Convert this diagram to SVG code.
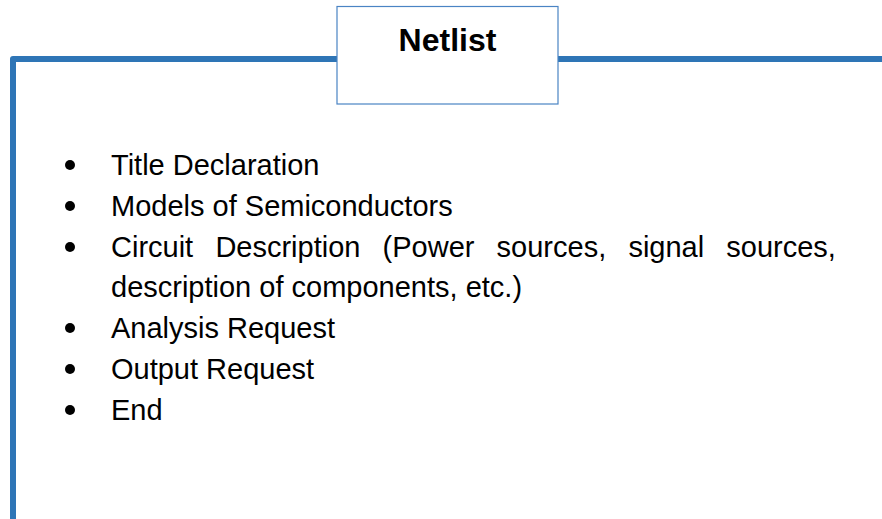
<svg xmlns="http://www.w3.org/2000/svg" width="882" height="519" viewBox="0 0 882 519">
  <style>
    .frame { fill: none; stroke: #2E75B6; stroke-width: 6; stroke-linejoin: round; }
    .title-box { fill: #FFFFFF; stroke: #4A84C4; stroke-width: 1.2; }
    .title { font-family: "Liberation Sans", Arial, sans-serif; font-weight: bold; font-size: 32px; fill: #000000; }
    .item { font-family: "Liberation Sans", Arial, sans-serif; font-size: 29px; fill: #000000; }
    .bullet { fill: #000000; }
  </style>
  <rect width="882" height="519" fill="#FFFFFF"/>

  <!-- outer frame rule: left edge and top edge -->
  <g id="connectors">
    <path class="frame" d="M13,522 V59 H885"/>
  </g>

  <!-- heading box -->
  <g id="netlist-title">
    <rect class="title-box" x="337" y="6.5" width="221" height="97.5"/>
    <text class="title" x="447.5" y="51" text-anchor="middle">Netlist</text>
  </g>

  <!-- bulleted contents -->
  <g id="netlist-items">
    <circle class="bullet" cx="70" cy="165" r="5"/>
    <text class="item" x="111" y="175">Title Declaration</text>

    <circle class="bullet" cx="70" cy="206" r="5"/>
    <text class="item" x="111" y="216">Models of Semiconductors</text>

    <circle class="bullet" cx="70" cy="247" r="5"/>
    <text class="item" y="257"><tspan x="111">Circuit</tspan><tspan x="215.4">Description</tspan><tspan x="382.6">(Power</tspan><tspan x="496.6">sources,</tspan><tspan x="628.4">signal</tspan><tspan x="726.3">sources,</tspan></text>
    <text class="item" x="111" y="297">description of components, etc.)</text>

    <circle class="bullet" cx="70" cy="328" r="5"/>
    <text class="item" x="111" y="338">Analysis Request</text>

    <circle class="bullet" cx="70" cy="369" r="5"/>
    <text class="item" x="111" y="379">Output Request</text>

    <circle class="bullet" cx="70" cy="410" r="5"/>
    <text class="item" x="111" y="420">End</text>
  </g>
</svg>
